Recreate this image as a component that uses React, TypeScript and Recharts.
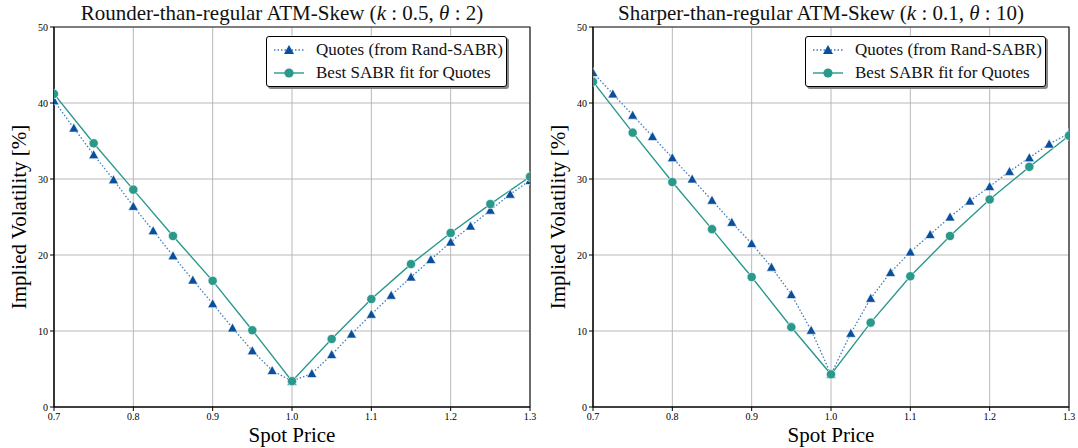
import React from "react";
import { LineChart, Line, XAxis, YAxis, CartesianGrid, ReferenceArea } from "recharts";

const spotGrid = [0.7, 0.725, 0.75, 0.775, 0.8, 0.825, 0.85, 0.875, 0.9, 0.925, 0.95, 0.975, 1.0, 1.025, 1.05, 1.075, 1.1, 1.125, 1.15, 1.175, 1.2, 1.225, 1.25, 1.275, 1.3];
const fitGrid = [0.7, 0.75, 0.8, 0.85, 0.9, 0.95, 1.0, 1.05, 1.1, 1.15, 1.2, 1.25, 1.3];

const leftQuotes = [40.3, 36.7, 33.2, 29.9, 26.4, 23.2, 19.9, 16.7, 13.6, 10.4, 7.4, 4.8, 3.4, 4.4, 6.9, 9.6, 12.2, 14.7, 17.1, 19.4, 21.7, 23.8, 25.9, 28.0, 29.8];
const leftFit = [41.2, 34.7, 28.6, 22.5, 16.6, 10.1, 3.4, 8.95, 14.2, 18.8, 22.9, 26.7, 30.3];
const rightQuotes = [44.0, 41.2, 38.4, 35.6, 32.8, 30.0, 27.2, 24.3, 21.5, 18.4, 14.8, 10.1, 4.3, 9.7, 14.3, 17.7, 20.4, 22.7, 25.0, 27.1, 29.0, 31.0, 32.8, 34.6, 36.0];
const rightFit = [42.8, 36.1, 29.6, 23.4, 17.1, 10.5, 4.3, 11.1, 17.2, 22.5, 27.3, 31.6, 35.7];

const xTicks = [0.7, 0.8, 0.9, 1.0, 1.1, 1.2, 1.3];
const yTicks = [0, 10, 20, 30, 40, 50];

const leftTitle = "Rounder-than-regular ATM-Skew (";
const leftParams = ["0.5", "2"];
const rightTitle = "Sharper-than-regular ATM-Skew (";
const rightParams = ["0.1", "10"];
const legendQuotes = "Quotes (from Rand-SABR)";
const legendFit = "Best SABR fit for Quotes";

const FONT = "'Liberation Serif', 'DejaVu Serif', serif";
const QUOTE_MARK = "#0a4f9c";
const QUOTE_LINE = "#3c7cc4";
const FIT = "#2a998c";

function buildRows(quotes: number[], fit: number[]) {
  return spotGrid.map((x, i) => {
    const j = fitGrid.findIndex((f) => Math.abs(f - x) < 1e-9);
    return { x, quote: quotes[i], fit: j >= 0 ? fit[j] : null };
  });
}

const Triangle = (props: any) => {
  const { cx, cy, index } = props;
  if (cx == null || cy == null) return <g key={"t" + index} />;
  const s = 5;
  return (
    <path
      key={"t" + index}
      d={`M${cx},${cy - s} L${cx + s},${cy + s * 0.8} L${cx - s},${cy + s * 0.8} Z`}
      fill={QUOTE_MARK}
      stroke="#ffffff"
      strokeWidth={0.6}
    />
  );
};

const Dot = (props: any) => {
  const { cx, cy, index } = props;
  if (cx == null || cy == null) return <g key={"c" + index} />;
  return <circle key={"c" + index} cx={cx} cy={cy} r={4.6} fill={FIT} stroke="#ffffff" strokeWidth={0.6} />;
};

function Panel({ left, title, params, quotes, fit }: any) {
  const rows = buildRows(quotes, fit);
  return (
    <div style={{ position: "absolute", left, top: 0, width: 540, height: 448 }}>
      <LineChart width={540} height={448} data={rows} margin={{ top: 27, right: 10, bottom: 0, left: 0 }}>
        <CartesianGrid stroke="#b8b8b8" strokeWidth={1} horizontalValues={yTicks} verticalValues={xTicks} />
        <XAxis
          dataKey="x"
          type="number"
          domain={[0.7, 1.3]}
          ticks={xTicks}
          allowDataOverflow
          height={41}
          tickFormatter={(v: number) => v.toFixed(1)}
          tick={{ fontSize: 10, fill: "#000", fontFamily: FONT }}
          tickSize={4}
          tickMargin={2}
          stroke="#000"
          label={{ value: "Spot Price", position: "insideBottom", offset: 6, fontSize: 21, fill: "#000", fontFamily: FONT }}
        />
        <YAxis
          type="number"
          domain={[0, 50]}
          ticks={yTicks}
          allowDataOverflow
          width={54}
          tick={{ fontSize: 10, fill: "#000", fontFamily: FONT }}
          tickSize={4}
          tickMargin={2}
          stroke="#000"
          label={{ value: "Implied Volatility [%]", angle: -90, position: "insideLeft", offset: 19, style: { textAnchor: "middle" }, fontSize: 21, fill: "#000", fontFamily: FONT }}
        />
        <Line
          dataKey="quote"
          stroke={QUOTE_LINE}
          strokeWidth={1.3}
          strokeDasharray="1.5 2"
          dot={Triangle}
          activeDot={false}
          isAnimationActive={false}
        />
        <Line
          dataKey="fit"
          stroke={FIT}
          strokeWidth={1.4}
          connectNulls
          dot={Dot}
          activeDot={false}
          isAnimationActive={false}
        />
        <ReferenceArea x1={0.7} x2={1.3} y1={0} y2={50} fill="none" stroke="#222" strokeWidth={1.2} ifOverflow="visible" />
      </LineChart>
      <div
        style={{
          position: "absolute",
          left: 44,
          width: 476,
          top: 0,
          textAlign: "center",
          fontFamily: FONT,
          fontSize: 21,
          lineHeight: "26px",
          whiteSpace: "nowrap",
          color: "#111",
        }}
      >
        {title}
        <i>k</i> : {params[0]}, <i>θ</i> : {params[1]})
      </div>
      <div
        style={{
          position: "absolute",
          left: 266,
          top: 36,
          width: 239,
          height: 49,
          border: "1px solid #000",
          borderRadius: 3,
          background: "#fff",
          boxShadow: "2px 2px 0 #888",
          fontFamily: FONT,
          fontSize: 17,
          color: "#111",
        }}
      >
        <div style={{ position: "absolute", left: 6, top: 2, display: "flex", alignItems: "center", height: 22 }}>
          <svg width={32} height={14} style={{ marginRight: 11 }}>
            <line x1={1} y1={7} x2={31} y2={7} stroke={QUOTE_LINE} strokeWidth={1.3} strokeDasharray="1.5 2" />
            <path d="M16,2 L21,11 L11,11 Z" fill={QUOTE_MARK} />
          </svg>
          <span>{legendQuotes}</span>
        </div>
        <div style={{ position: "absolute", left: 6, top: 25, display: "flex", alignItems: "center", height: 22 }}>
          <svg width={32} height={14} style={{ marginRight: 11 }}>
            <line x1={1} y1={7} x2={31} y2={7} stroke={FIT} strokeWidth={1.4} />
            <circle cx={16} cy={7} r={4.6} fill={FIT} />
          </svg>
          <span>{legendFit}</span>
        </div>
      </div>
    </div>
  );
}

export default function App() {
  return (
    <div style={{ position: "absolute", left: 0, top: 0, width: 1078, height: 448, background: "#fff" }}>
      <Panel left={0} title={leftTitle} params={leftParams} quotes={leftQuotes} fit={leftFit} />
      <Panel left={539} title={rightTitle} params={rightParams} quotes={rightQuotes} fit={rightFit} />
    </div>
  );
}
